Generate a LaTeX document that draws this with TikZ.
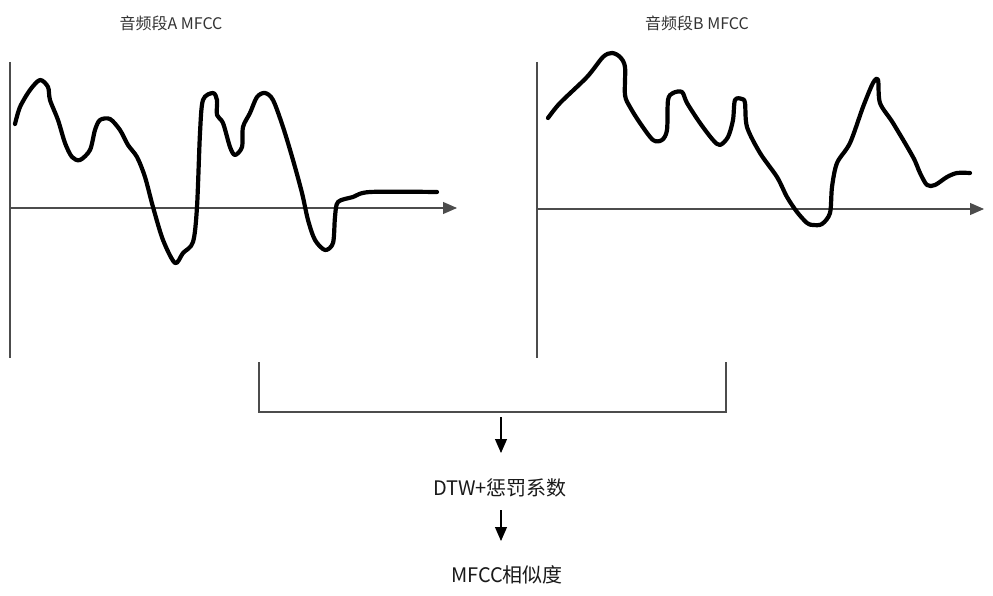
\documentclass[tikz,border=0pt]{standalone}
\usepackage{fontspec}
\setmainfont{Noto Sans CJK SC}
\usetikzlibrary{arrows.meta}
\begin{document}
\begin{tikzpicture}[x=1pt,y=-1pt,
  axis/.style={draw=black!70,line width=1.1pt},
  axisarrow/.style={axis,-{Triangle[length=14pt,width=12pt]}},
  flowarrow/.style={draw=black,line width=1.1pt,-{Triangle[length=14pt,width=12pt]}},
  curve/.style={draw=black,line width=4.2pt,line cap=round,line join=round},
  title/.style={text=black!80,font=\fontsize{16}{18}\selectfont,inner sep=0pt},
  label/.style={text=black!90,font=\fontsize{20}{22}\selectfont,inner sep=0pt}]
\useasboundingbox (0,0) rectangle (993,596);
% titles
\node[title] (tA) at (171,23) {音频段A MFCC};
\node[title] (tB) at (697,23) {音频段B MFCC};
% axes A
\coordinate (ayA1) at (10,62); \coordinate (ayA2) at (10,358);
\coordinate (axA1) at (10,208); \coordinate (axA2) at (457,208);
\draw[axis] (ayA1) -- (ayA2);
\draw[axisarrow] (axA1) -- (axA2);
% axes B
\coordinate (ayB1) at (537,62); \coordinate (ayB2) at (537,358);
\coordinate (axB1) at (537,209); \coordinate (axB2) at (984,209);
\draw[axis] (ayB1) -- (ayB2);
\draw[axisarrow] (axB1) -- (axB2);
% curve A
\draw[curve] plot[smooth,tension=0.5] coordinates {
(15,124) (20,107) (30,90) (40,80) (48,87) (50,100) (58,120) (65,143) (72,157) (80,160)
(90,150) (95,130) (100,120) (110,119) (120,130) (128,145) (137,157) (145,177) (153,207)
(163,240) (175,263) (183,253) (193,242) (197,207) (200,133) (203,100) (213,93) (217,100)
(217,115) (223,123) (230,147) (235,155) (242,147) (243,127) (250,113) (257,97) (265,93)
(273,100) (283,127) (293,160) (302,193) (308,220) (315,240) (325,250) (333,243) (335,217)
(338,202) (353,197) (370,192) (437,192)};
% curve B
\draw[curve] plot[smooth,tension=0.5] coordinates {
(548,118) (560,103) (587,77) (603,57) (612,53) (620,57) (625,67) (625,95) (630,107)
(640,123) (653,140) (662,140) (667,130) (668,100) (673,93) (682,92) (687,103) (700,123)
(713,140) (720,145) (728,137) (733,120) (735,100) (742,99) (745,103) (747,127) (760,153)
(777,177) (787,197) (797,212) (807,223) (813,225) (822,224) (830,213) (832,187) (837,163)
(850,143) (863,107) (873,83) (878,80) (880,103) (893,123) (913,157) (920,173) (927,185)
(935,185) (947,177) (957,173) (970,173)};
% bracket
\coordinate (bl) at (259,362); \coordinate (br) at (726,362);
\coordinate (bm) at (501,412); \coordinate (bs) at (501,417);
\draw[axis] (bl) |- (bm) -| (br);
% flow
\node[label] (dtw) at (500,488) {DTW+惩罚系数};
\node[label] (sim) at (507,575) {MFCC相似度};
\coordinate (e1) at (501,453);
\coordinate (s2) at (501,510);
\coordinate (e2) at (501,541);
\draw[flowarrow] (bs) -- (e1);
\draw[flowarrow] (s2) -- (e2);
\end{tikzpicture}
\end{document}
